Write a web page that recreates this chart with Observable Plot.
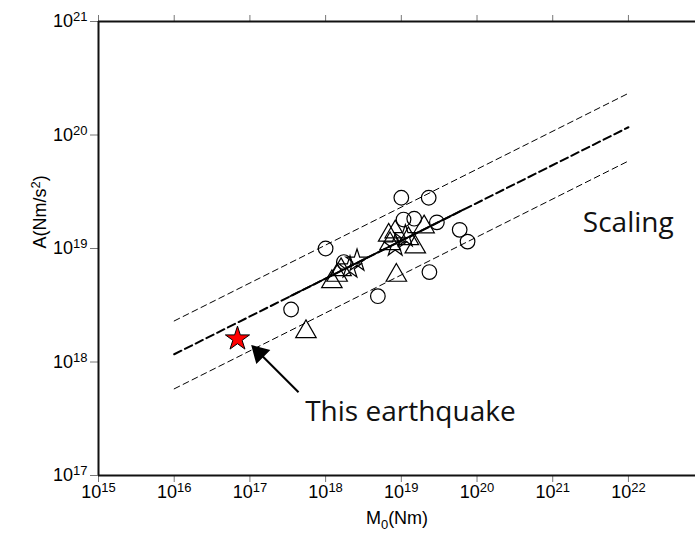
<!DOCTYPE html>
<html><head><meta charset="utf-8">
<script src="https://cdn.jsdelivr.net/npm/d3@7"></script>
<script src="https://cdn.jsdelivr.net/npm/@observablehq/plot@0.6"></script>
<style>html,body{margin:0;padding:0;background:#fff}#chart{width:695px;height:536px}</style>
</head><body><div id="chart"></div>
<script>
// Axis ticks
const xDecades = [1e15, 1e16, 1e17, 1e18, 1e19, 1e20, 1e21, 1e22];
const yDecades = [1e17, 1e18, 1e19, 1e20, 1e21];

// Circles
const circleM0 = [1.0e19, 2.3e19, 1.0e18, 1.07e19, 1.48e19, 2.95e19, 5.9e19, 7.5e19, 2.35e19, 4.9e18, 3.5e17, 1.74e18];
const circleA  = [2.8e19, 2.8e19, 1.0e19, 1.8e19, 1.83e19, 1.7e19, 1.46e19, 1.15e19, 6.2e18, 3.8e18, 2.9e18, 7.6e18];
// Triangles
const triM0 = [5.5e17, 8.6e18, 1.21e18, 1.42e18, 1.6e18, 6.8e18, 8.3e18, 1.53e19, 1.24e19, 2.0e19, 7.1e18];
const triA  = [1.85e18, 5.8e18, 5.1e18, 5.8e18, 6.5e18, 1.31e19, 1.4e19, 1.03e19, 1.22e19, 1.55e19, 1.1e19];
// Open stars
const starM0 = [2.6e18, 2.1e18, 8.3e18, 1.13e19];
const starA  = [7.8e18, 6.8e18, 1.06e19, 1.28e19];
// This earthquake
const thisM0 = [6.85e16];
const thisA  = [1.6e18];

// Scaling lines
const lineM0  = [1e16, 1e22];
const lineMid = [1.17e18, 1.17e20];
const lineUp  = [2.3e18, 2.33e20];
const lineLow = [5.8e17, 5.9e19];
const solidM0 = [3.4e17, 6.6e19];
const solidA  = [3.8e18, 2.2e19];

// Annotations
const arrowTail = {M0: 4.39e17, A: 5.42e17};
const arrowHead = {M0: 1.33e17, A: 1.2e18};
const noteLabel = {text: "This earthquake", M0: 5.37e17, A: 3.59e17};
const scaleLabel = {text: "Scaling", M0: 2.5e21, A: 1.69e19};
const xTitle = "M0(Nm)";
const yTitle = "A(Nm/s2)";

const pts = (xs, ys) => xs.map((x, i) => ({x, y: ys[i]}));
const fmt = d => "10^" + Math.round(Math.log10(d));

const plot = Plot.plot({
  width: 695, height: 536,
  marginLeft: 98, marginRight: 0, marginTop: 21, marginBottom: 61,
  style: {fontFamily: "'Liberation Sans', Arial, sans-serif", fontSize: "18px", color: "#000", background: "#fff", overflow: "visible"},
  x: {type: "log", domain: [1e15, 7.69e22]},
  y: {type: "log", domain: [1e17, 1e21]},
  marks: [
    Plot.axisX({anchor: "bottom", ticks: xDecades, tickSize: 7, tickPadding: 3, tickFormat: fmt, stroke: "#777", fill: "#000", fontSize: 18, label: null}),
    Plot.axisX({anchor: "top", ticks: xDecades, tickSize: 7, tickFormat: () => "", stroke: "#777", label: null}),
    Plot.axisY({anchor: "left", ticks: yDecades, tickSize: 8, tickPadding: 3, tickFormat: fmt, stroke: "#777", fill: "#000", fontSize: 18, label: null}),
    Plot.ruleX([1e15], {stroke: "#111", strokeWidth: 2}),
    Plot.ruleY([1e17, 1e21], {stroke: "#111", strokeWidth: 2}),
    // scaling lines
    Plot.line(pts(lineM0, lineUp), {x: "x", y: "y", stroke: "#000", strokeWidth: 1, strokeDasharray: "6,4"}),
    Plot.line(pts(lineM0, lineLow), {x: "x", y: "y", stroke: "#000", strokeWidth: 1, strokeDasharray: "6,4"}),
    Plot.line(pts(lineM0, lineMid), {x: "x", y: "y", stroke: "#000", strokeWidth: 2, strokeDasharray: "8,4"}),
    Plot.line(pts(solidM0, solidA), {x: "x", y: "y", stroke: "#000", strokeWidth: 1.8}),
    // data
    Plot.dot(pts(circleM0, circleA), {x: "x", y: "y", symbol: "circle", r: 7.3, stroke: "#000", strokeWidth: 1.2, fill: "none"}),
    Plot.dot(pts(triM0, triA), {x: "x", y: "y", symbol: "triangle", r: 7.6, stroke: "#000", strokeWidth: 1.2, fill: "none"}),
    Plot.dot(pts(starM0, starA), {x: "x", y: "y", symbol: "star", r: 7, stroke: "#000", strokeWidth: 1.2, fill: "none"}),
    Plot.dot(pts(thisM0, thisA), {x: "x", y: "y", symbol: "star", r: 7.6, stroke: "#000", strokeWidth: 1, fill: "#ff0000"}),
    // arrow
    Plot.link([0], {x1: () => arrowTail.M0, y1: () => arrowTail.A, x2: () => arrowHead.M0, y2: () => arrowHead.A, stroke: "#000", strokeWidth: 2}),
    Plot.dot([arrowHead], {x: "M0", y: "A", symbol: "triangle", r: 6.4, rotate: -45, fill: "#000", stroke: "#000"}),
    // text
    Plot.text([noteLabel], {x: "M0", y: "A", text: "text", textAnchor: "start", fontFamily: "'Open Sans', sans-serif", fontSize: 28, fill: "#111"}),
    Plot.text([scaleLabel], {x: "M0", y: "A", text: "text", textAnchor: "start", fontFamily: "'Open Sans', sans-serif", fontSize: 28, fill: "#111"}),
    Plot.text([xTitle], {frameAnchor: "bottom", dy: 48, text: d => d, fontSize: 18, fill: "#000"}),
    Plot.text([yTitle], {frameAnchor: "left", dx: -58, rotate: -90, text: d => d, fontSize: 18, fill: "#000"})
  ]
});

// superscripts / subscripts as real text
d3.select(plot).selectAll("text").each(function() {
  const t = this.textContent;
  const m = /^10\^(-?\d+)$/.exec(t);
  const sel = d3.select(this);
  if (m) {
    sel.text("");
    sel.append("tspan").text("10");
    sel.append("tspan").attr("dy", "-6").attr("font-size", "13px").text(m[1]);
  } else if (t === xTitle) {
    sel.text("");
    sel.append("tspan").text("M");
    sel.append("tspan").attr("dy", "5").attr("font-size", "13px").text("0");
    sel.append("tspan").attr("dy", "-5").text("(Nm)");
  } else if (t === yTitle) {
    sel.text("");
    sel.append("tspan").text("A(Nm/s");
    sel.append("tspan").attr("dy", "-6").attr("font-size", "13px").text("2");
    sel.append("tspan").attr("dy", "6").text(")");
  }
});
document.getElementById("chart").appendChild(plot);
</script>
</body></html>
